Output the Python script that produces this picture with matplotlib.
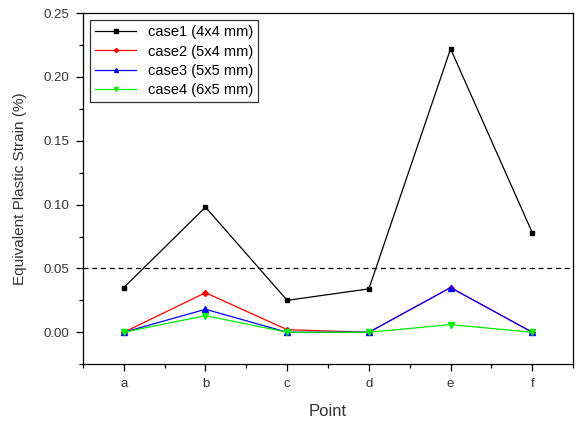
import matplotlib
matplotlib.use('Agg')
from matplotlib import pyplot as plt

points = ['a', 'b', 'c', 'd', 'e', 'f']
case1 = [0.035, 0.098, 0.025, 0.034, 0.222, 0.078]
case2 = [0.000, 0.031, 0.002, 0.000, 0.035, 0.000]
case3 = [0.000, 0.018, 0.000, 0.000, 0.035, 0.000]
case4 = [0.000, 0.013, 0.000, 0.000, 0.006, 0.000]
labels = ['case1 (4x4 mm)', 'case2 (5x4 mm)', 'case3 (5x5 mm)', 'case4 (6x5 mm)']
limit = 0.05

plt.rcParams['font.family'] = ['Liberation Sans', 'DejaVu Sans']

fig = plt.figure(figsize=(5.76, 4.22), dpi=100)
ax = fig.add_axes([0.144, 0.137, 0.851, 0.832])

x = list(range(1, len(points) + 1))
ax.plot(x, case1, color='black', marker='s', markersize=3.5, linewidth=0.9, label=labels[0])
ax.plot(x, case2, color='red', marker='D', markersize=3, linewidth=0.9, label=labels[1])
ax.plot(x, case3, color='blue', marker='^', markersize=4, linewidth=0.9, label=labels[2])
ax.plot(x, case4, color='#00ee00', marker='v', markersize=4, linewidth=0.9, label=labels[3])
ax.axhline(limit, color='black', linestyle='--', linewidth=0.9, dashes=(4, 3))

ax.set_xlim(0.5, 6.5)
ax.set_ylim(-0.025, 0.25)
ax.set_xticks(x)
ax.set_xticklabels(points)
ax.set_xticks([i + 0.5 for i in range(0, 7)], minor=True)
ax.set_yticks([0, 0.05, 0.10, 0.15, 0.20, 0.25])
ax.set_yticklabels(['0.00', '0.05', '0.10', '0.15', '0.20', '0.25'])
ax.set_yticks([-0.025, 0.025, 0.075, 0.125, 0.175, 0.225], minor=True)
ax.tick_params(which='major', direction='out', length=5, width=0.9, labelsize=9.5, colors='black', labelcolor='#333333', pad=5)
ax.tick_params(which='minor', direction='out', length=3, width=0.9)
for s in ax.spines.values():
	s.set_linewidth(0.9)

ax.set_xlabel('Point', fontsize=12, color='#333333', labelpad=10)
ax.set_ylabel('Equivalent Plastic Strain (%)', fontsize=11, color='#333333', labelpad=12)

leg = ax.legend(loc='upper left', fontsize=10.5, frameon=True, fancybox=False, edgecolor='black',
	borderaxespad=0.5, handlelength=2.8, labelspacing=0.35, borderpad=0.35, markerscale=0.7)
leg.get_frame().set_linewidth(0.9)

plt.savefig('out.png', dpi=100)
